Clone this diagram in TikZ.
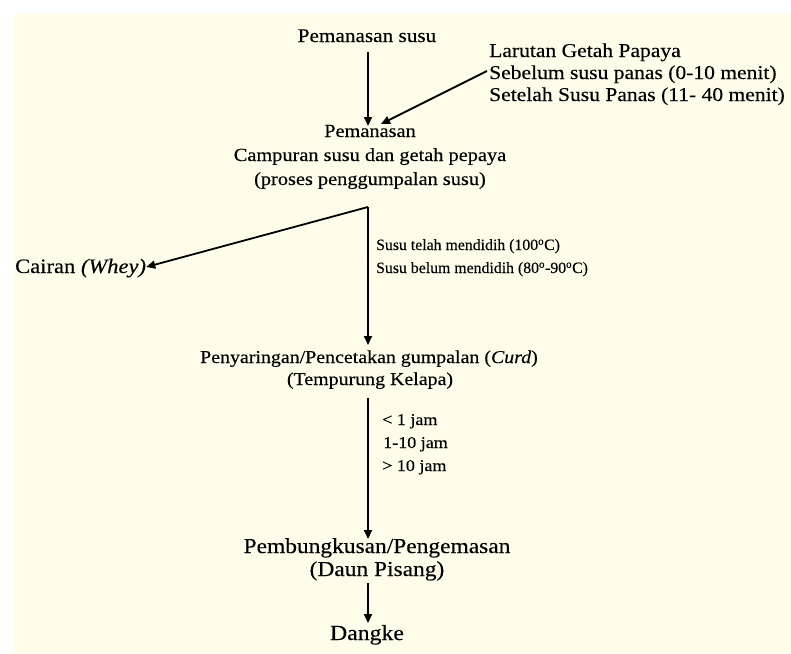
\documentclass[tikz,border=0pt]{standalone}
\usepackage{fontspec}
\setmainfont{Liberation Serif}[FakeStretch=1.1,FakeBold=0.3]
\newfontfamily\condf{Liberation Serif}[FakeStretch=1.0,FakeBold=0.2]
\usetikzlibrary{arrows.meta}
\definecolor{cream}{RGB}{255,253,234}
\tikzset{
  txt/.style={inner sep=0pt, anchor=base, text=black},
  ltxt/.style={inner sep=0pt, anchor=base west, text=black},
  arr/.style={line width=1.8pt, -{Triangle[length=9pt,width=8pt]}},
}
\newcommand{\fs}[1]{\fontsize{#1}{#1}\selectfont}
\begin{document}
\begin{tikzpicture}[x=1pt,y=-1pt]
\useasboundingbox (0,0) rectangle (791,653);
\fill[white] (0,0) rectangle (791,653);
\fill[cream] (14,13) rectangle (791,653);

\node[txt, font=\fs{19.3}] (a) at (367,42) {Pemanasan susu};
\node[ltxt, font=\fs{19.6}] (l1) at (489,57) {Larutan Getah Papaya};
\node[ltxt, font=\fs{19.6}] (l2) at (489,79) {Sebelum susu panas (0-10 menit)};
\node[ltxt, font=\fs{19.6}] (l3) at (489,101) {Setelah Susu Panas (11- 40 menit)};

\node[txt, font=\fs{18.5}] (b1) at (370,137) {Pemanasan};
\node[txt, font=\fs{18.5}] (b2) at (370,161) {Campuran susu dan getah pepaya};
\node[txt, font=\fs{18.5}] (b3) at (370,185) {(proses penggumpalan susu)};

\node[ltxt, font=\fs{20.5}] (w) at (15,273) {Cairan \textit{(Whey)}};
\node[ltxt, font=\condf\fs{15.8}] (s1) at (376,250) {Susu telah mendidih (100\textsuperscript{o}C)};
\node[ltxt, font=\condf\fs{15.8}] (s2) at (376,273) {Susu belum mendidih (80\textsuperscript{o}-90\textsuperscript{o}C)};

\node[txt, font=\fs{18.1}] (c1) at (369,363) {Penyaringan/Pencetakan gumpalan (\textit{Curd})};
\node[txt, font=\fs{18.1}] (c2) at (370,385) {(Tempurung Kelapa)};

\node[ltxt, font=\fs{16.4}] (j1) at (382,425) {< 1 jam};
\node[ltxt, font=\fs{16.4}] (j2) at (383,448) {1-10 jam};
\node[ltxt, font=\fs{16.4}] (j3) at (382,471) {> 10 jam};

\node[txt, font=\fs{21.3}] (d1) at (377,553) {Pembungkusan/Pengemasan};
\node[txt, font=\fs{21.3}] (d2) at (377,576) {(Daun Pisang)};

\node[txt, font=\fs{21.6}] (e) at (367,640) {Dangke};

\coordinate (a0) at (368,52);
\coordinate (a1) at (368,126);
\coordinate (lt) at (487,71);
\coordinate (lh) at (381,124);
\coordinate (t0) at (368,207);
\coordinate (t1) at (368,345);
\coordinate (wh) at (w.east |- 0,267);
\coordinate (c0) at (368,398);
\coordinate (c3) at (368,539);
\coordinate (d0) at (368,583);
\coordinate (d3) at (368,623);

\draw[arr] (a0) -- (a1);
\draw[arr] (lt) -- (lh);
\draw[arr] (t0) -- (t1);
\draw[arr] (t0) -- (wh);
\draw[arr] (c0) -- (c3);
\draw[arr] (d0) -- (d3);
\end{tikzpicture}
\end{document}
